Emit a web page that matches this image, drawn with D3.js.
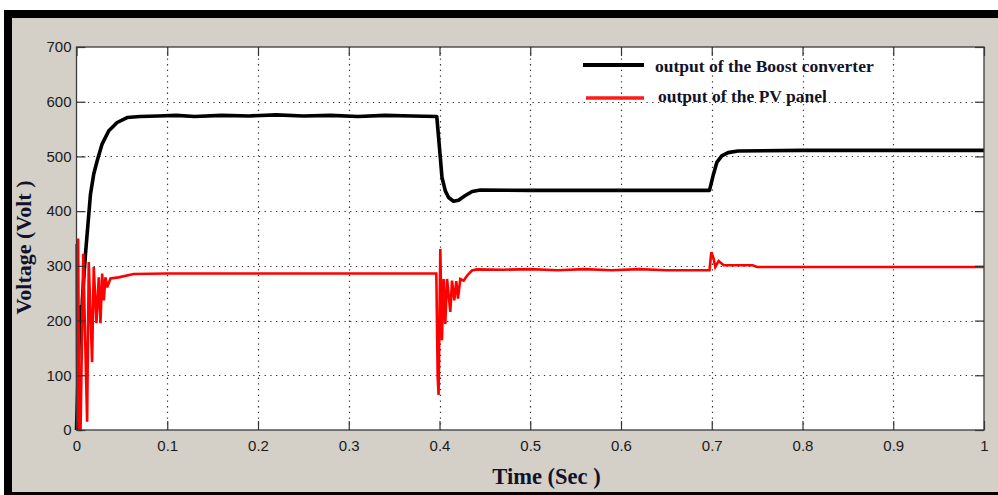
<!DOCTYPE html>
<html><head><meta charset="utf-8">
<script src="https://cdn.jsdelivr.net/npm/d3@7"></script>
<style>
html,body{margin:0;padding:0;background:#fff;}
svg{display:block;}
</style></head>
<body>
<svg id="chart" width="998" height="495"></svg>
<script>
// ---- data ----
const xTicks = [0, 0.1, 0.2, 0.3, 0.4, 0.5, 0.6, 0.7, 0.8, 0.9, 1];
const xTickLabels = ["0", "0.1", "0.2", "0.3", "0.4", "0.5", "0.6", "0.7", "0.8", "0.9", "1"];
const yTicks = [0, 100, 200, 300, 400, 500, 600, 700];
const seriesNames = ["output of the Boost converter", "output of the PV panel"];

const boostT = [0, 0.004, 0.0052, 0.0065, 0.0099, 0.0154, 0.019, 0.0228, 0.0283, 0.0356, 0.0448, 0.0558, 0.07, 0.09, 0.11, 0.13, 0.16, 0.19, 0.22, 0.25, 0.28, 0.31, 0.34, 0.37, 0.397,
  0.4009, 0.4027, 0.4064, 0.41, 0.4155, 0.421, 0.428, 0.436, 0.445, 0.5, 0.6, 0.6975,
  0.702, 0.7056, 0.711, 0.718, 0.729, 0.8, 0.9, 1.0];
const boostV = [0, 225, 173, 240, 322, 431, 468, 492, 523, 547, 562, 571, 573, 574, 575, 573, 575, 574, 576, 574, 575, 573, 575, 574, 573,
  498, 462, 437, 425, 418, 420, 428, 436, 438.5, 438, 438, 438,
  468, 489, 501, 507, 510, 511, 511, 511];

const pvT = [0, 0.0008, 0.0018, 0.003, 0.0045, 0.0074, 0.0117, 0.0135, 0.0172, 0.019, 0.022, 0.0245, 0.0264, 0.0283, 0.0301, 0.0319, 0.0338, 0.0374, 0.0463, 0.063, 0.1, 0.2, 0.3, 0.3965,
  0.398, 0.399, 0.4009, 0.4027, 0.4045, 0.4064, 0.4083, 0.4119, 0.4138, 0.4163, 0.4185, 0.4204, 0.4229, 0.4266, 0.4303, 0.4358, 0.4413,
  0.47, 0.5, 0.53, 0.56, 0.59, 0.62, 0.65, 0.6975,
  0.6995, 0.7021, 0.7039, 0.7076, 0.7131, 0.7186, 0.745, 0.75, 0.85, 1.0];
const pvV = [340, 5, 350, 0, 0, 322, 15, 307, 124, 298, 195, 279, 195, 286, 237, 279, 261, 277, 279, 285, 286, 286, 286, 286,
  97, 64, 331, 164, 276, 194, 276, 216, 273, 237, 272, 240, 276, 273, 282, 291.5, 293.5,
  293, 294, 292, 294, 292, 294, 292, 292,
  325, 313, 298, 309, 301, 301, 301, 298, 298, 298];

// ---- layout ----
const svg = d3.select("#chart");
const W = 998, H = 495;
const plot = {left: 76.5, right: 984, top: 47, bottom: 430};

// background frame
svg.append("rect").attr("x", 0).attr("y", 0).attr("width", W).attr("height", H).attr("fill", "#ffffff");
svg.append("rect").attr("x", 4).attr("y", 10).attr("width", W - 4).attr("height", H - 10).attr("fill", "#000");
svg.append("rect").attr("x", 12).attr("y", 18).attr("width", W - 12).attr("height", 474).attr("fill", "#d4d0c8");

const x = d3.scaleLinear().domain([0, 1]).range([plot.left, plot.right]);
const y = d3.scaleLinear().domain([0, 700]).range([plot.bottom, plot.top]);

// plot area
svg.append("rect").attr("x", plot.left).attr("y", plot.top)
  .attr("width", plot.right - plot.left).attr("height", plot.bottom - plot.top)
  .attr("fill", "#fff");

// grid
const grid = svg.append("g").attr("stroke", "#333").attr("stroke-width", 1.2)
  .attr("stroke-dasharray", "1.3,4.4");
grid.selectAll("line.v").data(xTicks.filter(d => d > 0 && d < 1)).join("line")
  .attr("x1", d => Math.round(x(d)) + 0.5).attr("x2", d => Math.round(x(d)) + 0.5)
  .attr("y1", plot.top).attr("y2", plot.bottom);
grid.selectAll("line.h").data(yTicks.filter(d => d > 0 && d < 700)).join("line")
  .attr("y1", d => Math.round(y(d)) + 0.5).attr("y2", d => Math.round(y(d)) + 0.5)
  .attr("x1", plot.left).attr("x2", plot.right);

// lines
const boost = boostT.map((t, i) => [t, boostV[i]]);
const pv = pvT.map((t, i) => [t, pvV[i]]);
const line = d3.line().x(d => x(d[0])).y(d => y(d[1]));

svg.append("path").datum(boost).attr("d", line).attr("fill", "none")
  .attr("stroke", "#000").attr("stroke-width", 3.6).attr("stroke-linejoin", "round");
svg.append("path").datum(pv).attr("d", line).attr("fill", "none")
  .attr("stroke", "#ff0000").attr("stroke-width", 2.6).attr("stroke-linejoin", "miter").attr("stroke-miterlimit", 3);

// axes
const tickFont = "'Liberation Sans', Arial, sans-serif";
const xAxis = d3.axisBottom(x).tickValues(xTicks).tickFormat((d, i) => xTickLabels[i])
  .tickSizeInner(-9).tickSizeOuter(0).tickPadding(10);
const gx = svg.append("g").attr("transform", `translate(0,${plot.bottom})`).call(xAxis);
const xAxisTop = d3.axisTop(x).tickValues(xTicks).tickFormat("").tickSizeInner(-9).tickSizeOuter(0);
const gxt = svg.append("g").attr("transform", `translate(0,${plot.top})`).call(xAxisTop);
const yAxis = d3.axisLeft(y).tickValues(yTicks).tickFormat(d3.format("d"))
  .tickSizeInner(-9).tickSizeOuter(0).tickPadding(5);
const gy = svg.append("g").attr("transform", `translate(${plot.left},0)`).call(yAxis);
const yAxisR = d3.axisRight(y).tickValues(yTicks).tickFormat("").tickSizeInner(-9).tickSizeOuter(0);
const gyr = svg.append("g").attr("transform", `translate(${plot.right},0)`).call(yAxisR);

[gx, gxt, gy, gyr].forEach(g => {
  g.select(".domain").remove();
  g.selectAll(".tick line").attr("stroke", "#333").attr("stroke-width", 1.2);
  g.selectAll(".tick text").attr("fill", "#1a1a1a").style("font-family", tickFont).style("font-size", "15px");
});
// box
svg.append("rect").attr("x", plot.left).attr("y", plot.top)
  .attr("width", plot.right - plot.left).attr("height", plot.bottom - plot.top)
  .attr("fill", "none").attr("stroke", "#3a3a3a").attr("stroke-width", 1.3);

// titles
const titleFont = "'Liberation Serif', 'Times New Roman', serif";
svg.append("text").attr("x", 546.5).attr("y", 483.5).attr("text-anchor", "middle")
  .style("font-family", titleFont).style("font-weight", "bold").style("font-size", "22.5px")
  .attr("fill", "#12122a").text("Time (Sec )");
svg.append("text").attr("transform", "translate(31,247.5) rotate(-90)").attr("text-anchor", "middle")
  .style("font-family", titleFont).style("font-weight", "bold").style("font-size", "22px")
  .attr("fill", "#12122a").text("Voltage (Volt )");

// legend
const legend = svg.append("g");
legend.append("line").attr("x1", 583).attr("x2", 644).attr("y1", 65).attr("y2", 65)
  .attr("stroke", "#000").attr("stroke-width", 4);
legend.append("line").attr("x1", 586).attr("x2", 644).attr("y1", 98).attr("y2", 98)
  .attr("stroke", "#ff1a1a").attr("stroke-width", 3.5);
legend.append("text").attr("x", 655).attr("y", 72)
  .style("font-family", titleFont).style("font-weight", "bold").style("font-size", "17.5px")
  .attr("fill", "#12122a").text(seriesNames[0]);
legend.append("text").attr("x", 658).attr("y", 101.5)
  .style("font-family", titleFont).style("font-weight", "bold").style("font-size", "17.5px")
  .attr("fill", "#12122a").text(seriesNames[1]);
</script>
</body></html>
